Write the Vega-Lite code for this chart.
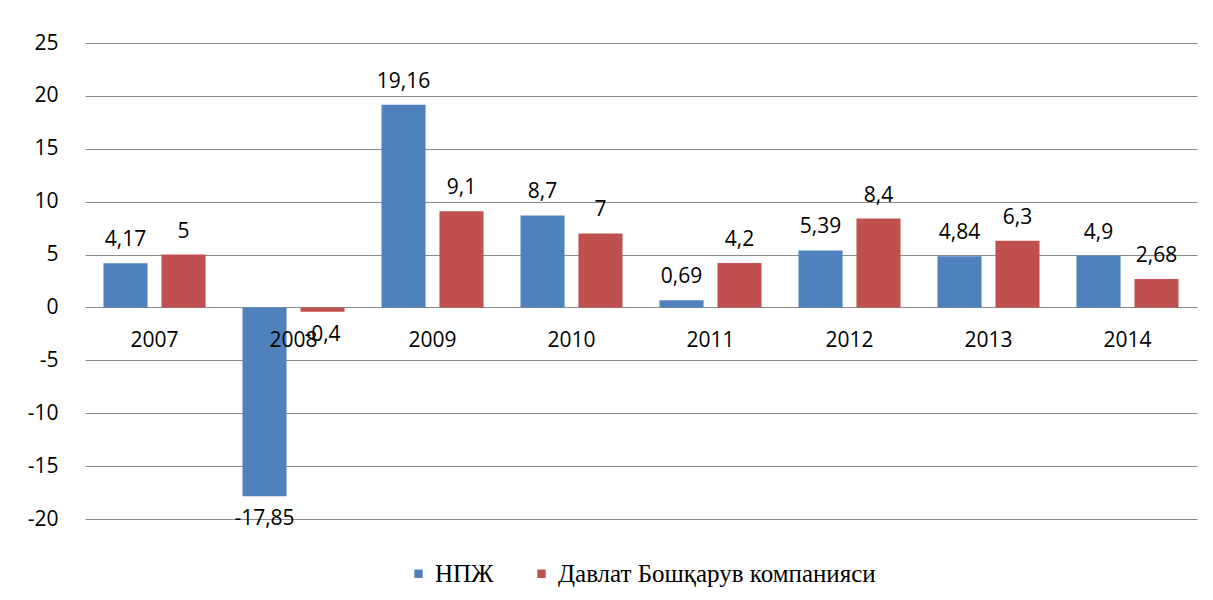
{
  "$schema": "https://vega.github.io/schema/vega-lite/v6.json",
  "width": 1112,
  "height": 476,
  "autosize": {"type": "none"},
  "padding": {"left": 85, "top": 43, "right": 16, "bottom": 81},
  "background": "white",
  "config": {
    "view": {"stroke": null},
    "font": "Open Sans",
    "locale": {"number": {"decimal": ",", "thousands": " ", "grouping": [3], "currency": ["", ""], "minus": "-"}},
    "legend": {"layout": {"bottom": {"anchor": "middle"}}}
  },
  "data": {
    "values": [
      {"year": "2007", "series": "НПЖ", "value": 4.17, "label": "4,17"},
      {"year": "2007", "series": "Давлат Бошқарув компанияси", "value": 5, "label": "5"},
      {"year": "2008", "series": "НПЖ", "value": -17.85, "label": "-17,85"},
      {"year": "2008", "series": "Давлат Бошқарув компанияси", "value": -0.4, "label": "-0,4"},
      {"year": "2009", "series": "НПЖ", "value": 19.16, "label": "19,16"},
      {"year": "2009", "series": "Давлат Бошқарув компанияси", "value": 9.1, "label": "9,1"},
      {"year": "2010", "series": "НПЖ", "value": 8.7, "label": "8,7"},
      {"year": "2010", "series": "Давлат Бошқарув компанияси", "value": 7, "label": "7"},
      {"year": "2011", "series": "НПЖ", "value": 0.69, "label": "0,69"},
      {"year": "2011", "series": "Давлат Бошқарув компанияси", "value": 4.2, "label": "4,2"},
      {"year": "2012", "series": "НПЖ", "value": 5.39, "label": "5,39"},
      {"year": "2012", "series": "Давлат Бошқарув компанияси", "value": 8.4, "label": "8,4"},
      {"year": "2013", "series": "НПЖ", "value": 4.84, "label": "4,84"},
      {"year": "2013", "series": "Давлат Бошқарув компанияси", "value": 6.3, "label": "6,3"},
      {"year": "2014", "series": "НПЖ", "value": 4.9, "label": "4,9"},
      {"year": "2014", "series": "Давлат Бошқарув компанияси", "value": 2.68, "label": "2,68"}
    ]
  },
  "layer": [
    {
      "mark": {"type": "bar"},
      "encoding": {
        "x": {
          "field": "year", "type": "nominal", "sort": null,
          "scale": {"paddingInner": 0.266, "paddingOuter": 0.133},
          "axis": null
        },
        "xOffset": {
          "field": "series", "type": "nominal",
          "sort": ["НПЖ", "Давлат Бошқарув компанияси"],
          "scale": {"paddingInner": 0.24, "paddingOuter": 0}
        },
        "y": {
          "field": "value", "type": "quantitative",
          "scale": {"domain": [-20, 25], "nice": false, "zero": false},
          "axis": {
            "title": null,
            "values": [-20, -15, -10, -5, 0, 5, 10, 15, 20, 25],
            "format": "d",
            "domain": false,
            "ticks": false,
            "labelFont": "Open Sans",
            "labelFontSize": 21,
            "labelColor": "#000000",
            "labelPadding": 27,
            "gridColor": "#8a8a8a",
            "gridWidth": 1.2,
            "gridOpacity": 1
          }
        },
        "color": {
          "field": "series", "type": "nominal",
          "sort": ["НПЖ", "Давлат Бошқарув компанияси"],
          "scale": {"range": ["#4F81BD", "#C0504D"]},
          "legend": {
            "title": null,
            "orient": "bottom",
            "direction": "horizontal",
            "symbolType": "square",
            "symbolSize": 70,
            "symbolStrokeWidth": 0,
            "labelFont": "Liberation Serif",
            "labelFontSize": 25,
            "labelColor": "#000000",
            "columnPadding": 35,
            "offset": 42,
            "labelLimit": 500
          }
        }
      }
    },
    {
      "transform": [{"filter": "datum.value >= 0"}],
      "mark": {"type": "text", "baseline": "bottom", "dy": -13, "fontSize": 21, "font": "Open Sans", "color": "#000000"},
      "encoding": {
        "x": {"field": "year", "type": "nominal", "sort": null},
        "xOffset": {"field": "series", "type": "nominal", "sort": ["НПЖ", "Давлат Бошқарув компанияси"]},
        "y": {"field": "value", "type": "quantitative"},
        "text": {"field": "label"}
      }
    },
    {
      "transform": [{"filter": "datum.value < 0"}],
      "mark": {"type": "text", "baseline": "top", "dy": 12, "fontSize": 21, "font": "Open Sans", "color": "#000000"},
      "encoding": {
        "x": {"field": "year", "type": "nominal", "sort": null},
        "xOffset": {"field": "series", "type": "nominal", "sort": ["НПЖ", "Давлат Бошқарув компанияси"]},
        "y": {"field": "value", "type": "quantitative"},
        "text": {"field": "label"}
      }
    },
    {
      "transform": [{"filter": "datum.series === 'НПЖ'"}],
      "mark": {"type": "text", "baseline": "middle", "dy": 34, "fontSize": 21, "font": "Open Sans", "color": "#000000"},
      "encoding": {
        "x": {"field": "year", "type": "nominal", "sort": null},
        "y": {"datum": 0, "type": "quantitative"},
        "text": {"field": "year"}
      }
    }
  ]
}
